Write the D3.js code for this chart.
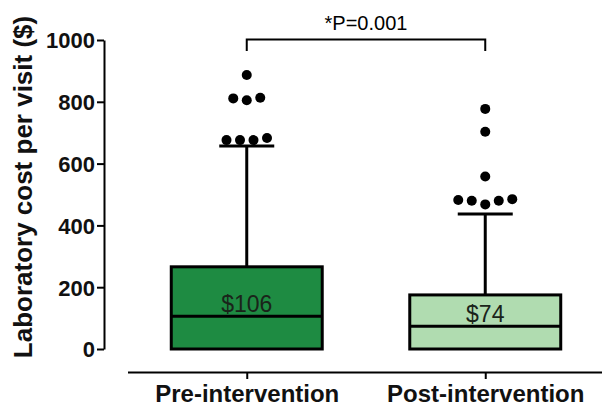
<!DOCTYPE html>
<html>
<head>
<meta charset="utf-8">
<script src="https://cdn.jsdelivr.net/npm/d3@7"></script>
<style>
  html, body { margin: 0; padding: 0; background: #fff; }
  svg { display: block; font-family: "Liberation Sans", Arial, sans-serif; }
</style>
</head>
<body>
<svg id="chart" width="602" height="412"></svg>
<script>
// ---- Data ----
const categories = ["Pre-intervention", "Post-intervention"];
const q1Values = [0, 0];
const medianValues = [106, 74];
const q3Values = [266, 175];
const whiskerLow = [0, 0];
const whiskerHigh = [657, 437];
const medianLabels = ["$106", "$74"];
const preOutliers = [887, 811, 805, 813, 676, 676, 676, 683];
const postOutliers = [777, 703, 558, 482, 480, 468, 480, 485];
const outliers = [preOutliers, postOutliers];
const yTicks = [0, 200, 400, 600, 800, 1000];
const pLabel = "*P=0.001";
const yTitle = "Laboratory cost per visit ($)";
const boxColors = ["#1e8b42", "#b0dcb0"];

// ---- Layout ----
const svg = d3.select("#chart");
const y = d3.scaleLinear().domain([0, 1000]).range([349, 40]);
const x = d3.scalePoint().domain(categories).range([127.5, 604.5]).padding(0.5);
const boxW = x.step() * 0.633;
const capW = 55;
const dotR = 5;
const dotGap = 13.5;

// Y axis
const yAxis = svg.append("g")
  .attr("transform", "translate(104,0)")
  .call(d3.axisLeft(y).tickValues(yTicks).tickFormat(d3.format("d")).tickSize(7).tickSizeOuter(0).tickPadding(2));
yAxis.select(".domain").attr("stroke", "#000").attr("stroke-width", 2);
yAxis.selectAll(".tick line").attr("stroke", "#000").attr("stroke-width", 2);
yAxis.selectAll(".tick text")
  .attr("font-family", "'Liberation Sans', Arial, sans-serif")
  .attr("font-size", 22).attr("font-weight", "bold").attr("fill", "#111").attr("dy", "0.36em");

// X axis
const xAxis = svg.append("g")
  .attr("transform", "translate(0,372)")
  .call(d3.axisBottom(x).tickSize(7).tickSizeOuter(0).tickPadding(2));
xAxis.select(".domain").attr("stroke", "#000").attr("stroke-width", 2);
xAxis.selectAll(".tick line").attr("stroke", "#000").attr("stroke-width", 2);
xAxis.selectAll(".tick text")
  .attr("font-family", "'Liberation Sans', Arial, sans-serif")
  .attr("font-size", 24).attr("font-weight", "bold").attr("fill", "#111")
  .attr("dy", null).attr("y", 30);

// Y title
svg.append("text")
  .attr("transform", `translate(32,${187}) rotate(-90)`)
  .attr("text-anchor", "middle")
  .attr("font-size", 26).attr("font-weight", "bold").attr("fill", "#111")
  .text(yTitle);

// Boxes
const boxes = svg.append("g");
categories.forEach((c, i) => {
  const cx = x(c);
  const g = boxes.append("g");
  // whisker
  g.append("line")
    .attr("x1", cx).attr("x2", cx)
    .attr("y1", y(q3Values[i])).attr("y2", y(whiskerHigh[i]))
    .attr("stroke", "#000").attr("stroke-width", 3);
  g.append("line")
    .attr("x1", cx - capW / 2).attr("x2", cx + capW / 2)
    .attr("y1", y(whiskerHigh[i])).attr("y2", y(whiskerHigh[i]))
    .attr("stroke", "#000").attr("stroke-width", 3);
  // box
  g.append("rect")
    .attr("x", cx - boxW / 2).attr("width", boxW)
    .attr("y", y(q3Values[i])).attr("height", y(q1Values[i]) - y(q3Values[i]))
    .attr("fill", boxColors[i]).attr("stroke", "#000").attr("stroke-width", 3);
  // median
  g.append("line")
    .attr("x1", cx - boxW / 2).attr("x2", cx + boxW / 2)
    .attr("y1", y(medianValues[i])).attr("y2", y(medianValues[i]))
    .attr("stroke", "#000").attr("stroke-width", 3);
  // label
  g.append("text")
    .attr("x", cx).attr("y", y(medianValues[i]) - 4.5)
    .attr("text-anchor", "middle")
    .attr("font-size", 23).attr("fill", "#1a241a")
    .text(medianLabels[i]);

  // outliers: group values that would overlap, spread horizontally
  const vals = outliers[i];
  const rows = [];
  vals.forEach(v => {
    let row = rows.find(r => Math.abs(y(r.ref) - y(v)) < 2 * dotR + 1);
    if (!row) { row = { ref: v, items: [] }; rows.push(row); }
    row.items.push(v);
  });
  rows.forEach(r => {
    const n = r.items.length;
    r.items.forEach((v, k) => {
      g.append("circle")
        .attr("cx", cx + (k - (n - 1) / 2) * dotGap)
        .attr("cy", y(v))
        .attr("r", dotR)
        .attr("fill", "#000");
    });
  });
});

// Significance bracket
const bx1 = x(categories[0]), bx2 = x(categories[1]);
svg.append("path")
  .attr("d", `M${bx1},51 V39.5 H${bx2} V51`)
  .attr("fill", "none").attr("stroke", "#000").attr("stroke-width", 2);
svg.append("text")
  .attr("x", (bx1 + bx2) / 2).attr("y", 30)
  .attr("text-anchor", "middle")
  .attr("font-size", 20).attr("fill", "#000")
  .text(pLabel);
</script>
</body>
</html>
